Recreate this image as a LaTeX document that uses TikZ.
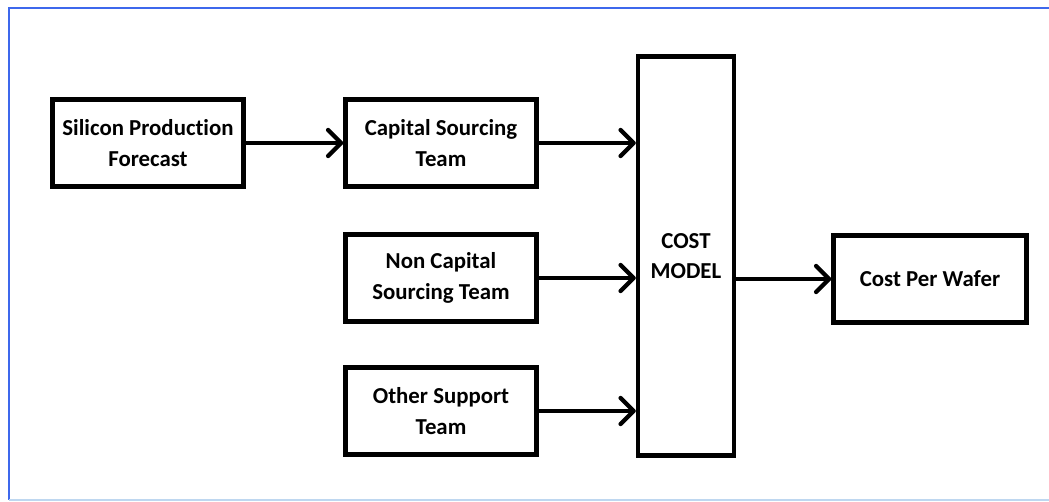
\documentclass[tikz,border=0pt]{standalone}
\usepackage{fontspec}
\setmainfont{Carlito}[Ligatures=NoCommon]
\usetikzlibrary{arrows.meta}
\definecolor{frameblue}{RGB}{62,104,236}
\definecolor{framelight}{RGB}{190,215,240}
\begin{document}
\begin{tikzpicture}[x=0.02cm, y=-0.02cm,
    every node/.style={draw, line width=2.5pt, align=center, font=\fontsize{13}{17.5}\selectfont\bfseries,
      minimum width=3.82cm, minimum height=1.74cm, inner sep=0pt},
    every path/.style={line width=2.5pt},
    flow/.style={-{Straight Barb[length=2.6mm, width=5.2mm, round]}}]
            \useasboundingbox (0,0) rectangle (1049,502);
            \draw[frameblue, line width=1.5pt] (1060,8) -- (9,8) -- (9,500);
            \draw[framelight, line width=1.5pt] (9,500) -- (1060,500);

            \node (forecast) at (148,143) {Silicon Production\\Forecast};
            \node (capital) at (441,143) {Capital Sourcing\\Team};
            \node (noncap) at (441,278) {Non Capital\\Sourcing Team};
            \node (support) at (441,411) {Other Support\\Team};
            \node[minimum width=1.92cm, minimum height=7.98cm] (model) at (686,256) {COST\\MODEL};
            \node[minimum width=3.86cm] (wafer) at (930,279) {Cost Per Wafer};

            \draw[flow] (forecast) -- (capital);
            \draw[flow] (capital.east) -- (capital.east -| model.west);
            \draw[flow] (noncap.east) -- (noncap.east -| model.west);
            \draw[flow] (support.east) -- (support.east -| model.west);
            \draw[flow] (model.east |- wafer.west) -- (wafer.west);
        \end{tikzpicture}
\end{document}
